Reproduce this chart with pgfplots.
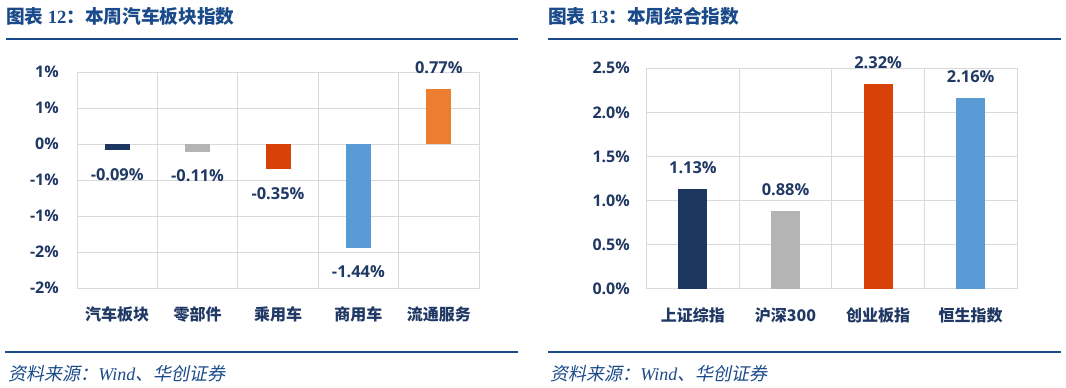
\documentclass[border=0pt]{standalone}
\usepackage{pgfplots}
\pgfplotsset{compat=1.18}
\usepackage{fontspec}
\setmainfont{Open Sans}
\newfontfamily\cjk{Noto Sans CJK SC}
\newfontfamily\cjkit{Noto Sans CJK SC}[FakeSlant=0.2]
\newfontfamily\tserif{Liberation Serif}
\definecolor{c1}{HTML}{1D3860}
\definecolor{c2}{HTML}{B4B4B4}
\definecolor{c3}{HTML}{D84108}
\definecolor{c4}{HTML}{5B9BD5}
\definecolor{c5}{HTML}{ED7D31}
\definecolor{gridc}{HTML}{D9D9D9}
\definecolor{txt}{HTML}{203864}
\definecolor{tblue}{HTML}{1B4A8A}
\pgfplotsset{
  mybars/.style={
    scale only axis, clip=false,
    ybar,
    xminorgrids, ymajorgrids,
    grid style={draw=gridc, line width=0.75pt},
    minor grid style={draw=gridc, line width=0.75pt},
    axis line style={draw=gridc, line width=0.75pt},
    major tick length=0pt, minor tick length=0pt,
    tick style={draw=none},
    yticklabel style={font=\bfseries\fontsize{12}{14}\selectfont, text=txt, anchor=east, inner sep=0pt},
    xticklabel style={font=\cjk\bfseries\fontsize{12}{14}\selectfont, text=txt, anchor=center, yshift=-20pt},
    point meta=explicit symbolic,
    nodes near coords,
  },
  neglab/.style={every node near coord/.style={font=\bfseries\fontsize{12.3}{14}\selectfont, text=txt, anchor=center, yshift=-18pt}},
  poslab/.style={every node near coord/.style={font=\bfseries\fontsize{12.3}{14}\selectfont, text=txt, anchor=center, yshift=16pt}},
}
\begin{document}
\begin{tikzpicture}
\path[use as bounding box] (0pt,0pt) rectangle (799.5pt,-290.25pt);
% titles and rules
\node[anchor=west, inner sep=0pt, text=tblue] at (4.5pt,-12.6pt) {\cjk\bfseries\fontsize{14}{16}\selectfont 图表 {\tserif 12}：本周汽车板块指数};
\node[anchor=west, inner sep=0pt, text=tblue] at (411pt,-12.6pt) {\cjk\bfseries\fontsize{14}{16}\selectfont 图表 {\tserif 13}：本周综合指数};
\draw[line width=1.5pt, tblue] (4.5pt,-29.25pt) -- (388.5pt,-29.25pt);
\draw[line width=1.5pt, tblue] (411pt,-29.25pt) -- (795.75pt,-29.25pt);
\draw[line width=1.5pt, tblue] (3.75pt,-264pt) -- (388.5pt,-264pt);
\draw[line width=1.5pt, tblue] (411pt,-264pt) -- (795.75pt,-264pt);
\node[anchor=west, inner sep=0pt, text=tblue] at (6pt,-280pt) {\fontsize{13.5}{15}\selectfont{\cjkit 资料来源：}{\tserif\itshape Wind}{\cjkit 、华创证券}};
\node[anchor=west, inner sep=0pt, text=tblue] at (412.5pt,-280pt) {\fontsize{13.5}{15}\selectfont{\cjkit 资料来源：}{\tserif\itshape Wind}{\cjkit 、华创证券}};
% left chart
\begin{axis}[mybars,
  at={(57.75pt,-216pt)}, anchor=south west,
  width=301.5pt, height=162pt,
  xmin=-0.5, xmax=4.5, ymin=-2, ymax=1,
  ytick={-2,-1.5,-1,-0.5,0,0.5,1},
  yticklabels={-2\%,-2\%,-1\%,-1\%,0\%,1\%,1\%},
  yticklabel style={xshift=-13.5pt},
  xtick={0,1,2,3,4},
  xticklabels={汽车板块,零部件,乘用车,商用车,流通服务},
  minor xtick={-0.5,0.5,1.5,2.5,3.5,4.5},
  bar width=18.75pt,
]
\addplot[fill=c1, draw=none, bar shift=0pt, neglab] coordinates {(0,-0.09) [-0.09\%]};
\addplot[fill=c2, draw=none, bar shift=0pt, neglab] coordinates {(1,-0.11) [-0.11\%]};
\addplot[fill=c3, draw=none, bar shift=0pt, neglab] coordinates {(2,-0.35) [-0.35\%]};
\addplot[fill=c4, draw=none, bar shift=0pt, neglab] coordinates {(3,-1.44) [-1.44\%]};
\addplot[fill=c5, draw=none, bar shift=0pt, poslab] coordinates {(4,0.77) [0.77\%]};
\end{axis}
% right chart
\begin{axis}[mybars,
  at={(485pt,-216.5pt)}, anchor=south west,
  width=277.75pt, height=165.3pt,
  xmin=-0.5, xmax=3.5, ymin=0, ymax=2.5,
  ytick={0,0.5,1,1.5,2,2.5},
  yticklabels={0.0\%,0.5\%,1.0\%,1.5\%,2.0\%,2.5\%},
  yticklabel style={xshift=-12.5pt},
  xtick={0,1,2,3},
  xticklabels={上证综指,沪深300,创业板指,恒生指数},
  minor xtick={-0.5,0.5,1.5,2.5,3.5},
  bar width=21.75pt,
]
\addplot[fill=c1, draw=none, bar shift=0pt, poslab] coordinates {(0,1.13) [1.13\%]};
\addplot[fill=c2, draw=none, bar shift=0pt, poslab] coordinates {(1,0.88) [0.88\%]};
\addplot[fill=c3, draw=none, bar shift=0pt, poslab] coordinates {(2,2.32) [2.32\%]};
\addplot[fill=c4, draw=none, bar shift=0pt, poslab] coordinates {(3,2.16) [2.16\%]};
\end{axis}
\end{tikzpicture}
\end{document}
